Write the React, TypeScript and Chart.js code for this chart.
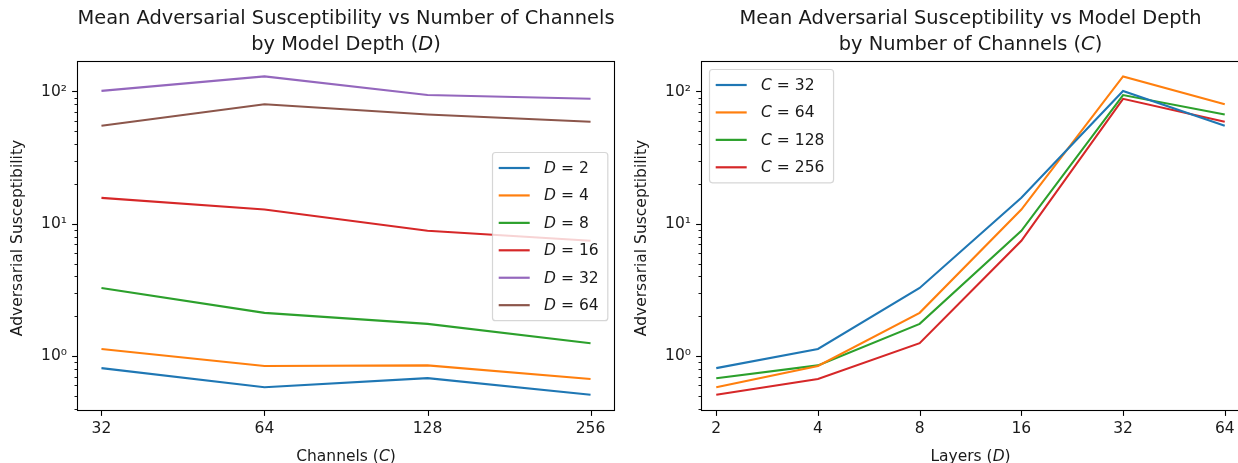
import React, { useEffect, useRef } from 'react';
import { Chart, registerables } from 'chart.js';

Chart.register(...registerables);

// ---------- data ----------
const channels = [32, 64, 128, 256];
const depths = [2, 4, 8, 16, 32, 64];

// mean adversarial susceptibility, one array per depth D (values over channels)
const depth2 = [0.81, 0.58, 0.68, 0.51];
const depth4 = [1.13, 0.84, 0.85, 0.67];
const depth8 = [3.27, 2.12, 1.75, 1.25];
const depth16 = [15.7, 12.8, 8.85, 7.43];
const depth32 = [101, 130, 94, 88];
const depth64 = [55, 80, 67, 59];
const byDepth = [depth2, depth4, depth8, depth16, depth32, depth64];

const palette = ['#1f77b4', '#ff7f0e', '#2ca02c', '#d62728', '#9467bd', '#8c564b'];

const yTickText: Record<string, string> = { '1': '10\u2070', '10': '10\u00b9', '100': '10\u00b2' };
const yMin = 0.384;
const yMax = 170;

// ---------- styling ----------
const FONT = "'DejaVu Sans', sans-serif";
const TXT = 15.5;
const TITLE = 19.4;
const INK = '#1a1a1a';

type Seg = { t: string; it?: boolean };

function fontFor(s: Seg, size: number) {
  return `${s.it ? 'italic ' : ''}${size}px ${FONT}`;
}
function segsWidth(ctx: CanvasRenderingContext2D, segs: Seg[], size: number) {
  let w = 0;
  for (const s of segs) {
    ctx.font = fontFor(s, size);
    w += ctx.measureText(s.t).width;
  }
  return w;
}
function drawSegs(ctx: CanvasRenderingContext2D, segs: Seg[], size: number, x: number, y: number, center: boolean) {
  let cx = center ? x - segsWidth(ctx, segs, size) / 2 : x;
  ctx.textAlign = 'left';
  for (const s of segs) {
    ctx.font = fontFor(s, size);
    ctx.fillText(s.t, cx, y);
    cx += ctx.measureText(s.t).width;
  }
}

type Spec = {
  title: Seg[][];
  xLabel: Seg[];
  yLabel: Seg[];
  legend: Seg[][];
  legendLoc: 'centerRight' | 'upperLeft';
};

function decorPlugin(spec: Spec) {
  return {
    id: 'decor',
    afterDatasetsDraw(chart: any) {
      const ctx: CanvasRenderingContext2D = chart.ctx;
      const a = chart.chartArea;
      ctx.save();
      ctx.strokeStyle = '#000';
      ctx.lineWidth = 1.1;
      // spines
      const L = Math.round(a.left) + 0.5;
      const R = Math.round(a.right) - 0.5;
      const T = Math.round(a.top) + 0.5;
      const B = Math.round(a.bottom) - 0.5;
      ctx.strokeRect(L, T, R - L, B - T);
      // x ticks
      const xs = chart.scales.x;
      for (const t of xs.ticks) {
        const px = Math.round(xs.getPixelForValue(t.value)) + 0.5;
        ctx.beginPath();
        ctx.moveTo(px, B);
        ctx.lineTo(px, B + 5.4);
        ctx.stroke();
      }
      // y ticks
      const ys = chart.scales.y;
      for (const t of ys.ticks) {
        const py = Math.round(ys.getPixelForValue(t.value)) + 0.5;
        const len = t.major ? 5.4 : 3.0;
        ctx.lineWidth = t.major ? 1.1 : 0.9;
        ctx.beginPath();
        ctx.moveTo(L, py);
        ctx.lineTo(L - len, py);
        ctx.stroke();
      }
      ctx.restore();
    },
    afterDraw(chart: any) {
      const ctx: CanvasRenderingContext2D = chart.ctx;
      const a = chart.chartArea;
      const cx = (a.left + a.right) / 2;
      const cy = (a.top + a.bottom) / 2;
      ctx.save();
      ctx.fillStyle = INK;
      ctx.textBaseline = 'alphabetic';
      // title
      drawSegs(ctx, spec.title[0], TITLE, cx, 23.5, true);
      drawSegs(ctx, spec.title[1], TITLE, cx, 49.5, true);
      // x label
      drawSegs(ctx, spec.xLabel, TXT, cx, 460.5, true);
      // y label
      ctx.save();
      ctx.translate(a.left - 55, cy + 2);
      ctx.rotate(-Math.PI / 2);
      drawSegs(ctx, spec.yLabel, TXT, 0, 0, true);
      ctx.restore();

      // legend
      const em = TXT;
      const pad = 0.4 * em;
      const handle = 2 * em;
      const textPad = 0.8 * em;
      const rowPitch = 1.77 * em;
      const firstOff = 1.0 * em;
      let tw = 0;
      for (const segs of spec.legend) tw = Math.max(tw, segsWidth(ctx, segs, TXT));
      const w = pad + handle + textPad + tw + pad + 5;
      const n = spec.legend.length;
      const h = firstOff * 2 + (n - 1) * rowPitch;
      const gap = 0.5 * em;
      let bx: number, by: number;
      if (spec.legendLoc === 'centerRight') {
        bx = a.right - gap - w;
        by = cy - h / 2;
      } else {
        bx = a.left + gap;
        by = a.top + gap;
      }
      bx = Math.round(bx) + 0.5;
      by = Math.round(by) + 0.5;
      ctx.beginPath();
      (ctx as any).roundRect(bx, by, w, h, 3);
      ctx.fillStyle = 'rgba(255,255,255,0.8)';
      ctx.fill();
      ctx.strokeStyle = 'rgba(204,204,204,0.8)';
      ctx.lineWidth = 1.2;
      ctx.stroke();
      const dsets = chart.data.datasets;
      for (let i = 0; i < n; i++) {
        const ry = by + firstOff + i * rowPitch;
        ctx.strokeStyle = dsets[i].borderColor;
        ctx.lineWidth = 2.2;
        ctx.beginPath();
        ctx.moveTo(bx + pad, ry);
        ctx.lineTo(bx + pad + handle, ry);
        ctx.stroke();
        ctx.fillStyle = INK;
        ctx.textBaseline = 'middle';
        drawSegs(ctx, spec.legend[i], TXT, bx + pad + handle + textPad + 2, ry + 1, false);
      }
      ctx.restore();
    },
  };
}

function buildConfig(
  xValues: number[],
  series: number[][],
  spec: Spec,
  yAxisWidth: number,
  rightPad: number
): any {
  const lo = xValues[0] / Math.pow(2, 0.15);
  const hi = xValues[xValues.length - 1] * Math.pow(2, 0.15);
  return {
    type: 'line',
    data: {
      datasets: series.map((vals, i) => ({
        label: spec.legend[i].map((s) => s.t).join(''),
        data: vals.map((y, j) => ({ x: xValues[j], y })),
        borderColor: palette[i],
        backgroundColor: palette[i],
        borderWidth: 2.1,
        pointRadius: 0,
        tension: 0,
        fill: false,
      })),
    },
    options: {
      animation: false,
      responsive: false,
      devicePixelRatio: 1,
      layout: { padding: { top: 61, right: rightPad, bottom: 0, left: 0 } },
      plugins: {
        legend: { display: false },
        title: { display: false },
        tooltip: { enabled: false },
      },
      scales: {
        x: {
          type: 'logarithmic',
          bounds: 'data',
          min: lo,
          max: hi,
          grid: { display: false, drawTicks: false },
          border: { display: false },
          afterBuildTicks: (s: any) => {
            s.ticks = xValues.map((v) => ({ value: v }));
          },
          afterFit: (s: any) => {
            s.height = 52;
          },
          ticks: {
            autoSkip: false,
            maxRotation: 0,
            padding: 9,
            color: INK,
            font: { family: FONT, size: TXT },
            callback: (v: any) => String(v),
          },
        },
        y: {
          type: 'logarithmic',
          bounds: 'data',
          min: yMin,
          max: yMax,
          grid: { display: false, drawTicks: false },
          border: { display: false },
          afterBuildTicks: (s: any) => {
            const t: any[] = [];
            for (let e = -1; e <= 2; e++) {
              for (let k = 1; k <= 9; k++) {
                const v = k * Math.pow(10, e);
                if (v >= s.min && v <= s.max) t.push({ value: v, major: k === 1 });
              }
            }
            s.ticks = t;
          },
          afterFit: (s: any) => {
            s.width = yAxisWidth;
          },
          ticks: {
            autoSkip: false,
            padding: 10,
            color: INK,
            font: { family: FONT, size: TXT },
            callback: (v: any) => yTickText[String(v)] ?? '',
          },
        },
      },
    },
    plugins: [decorPlugin(spec)],
  };
}

// left: x = channels, one line per depth
const leftSeries = byDepth;
// right: x = depths, one line per channel count
const rightSeries = channels.map((_, j) => byDepth.map((row) => row[j]));

const leftSpec: Spec = {
  title: [
    [{ t: 'Mean Adversarial Susceptibility vs Number of Channels' }],
    [{ t: 'by Model Depth (' }, { t: 'D', it: true }, { t: ')' }],
  ],
  xLabel: [{ t: 'Channels (' }, { t: 'C', it: true }, { t: ')' }],
  yLabel: [{ t: 'Adversarial Susceptibility' }],
  legend: depths.map((d) => [{ t: 'D', it: true }, { t: ` = ${d}` }]),
  legendLoc: 'centerRight',
};

const rightSpec: Spec = {
  title: [
    [{ t: 'Mean Adversarial Susceptibility vs Model Depth' }],
    [{ t: 'by Number of Channels (' }, { t: 'C', it: true }, { t: ')' }],
  ],
  xLabel: [{ t: 'Layers (' }, { t: 'D', it: true }, { t: ')' }],
  yLabel: [{ t: 'Adversarial Susceptibility' }],
  legend: channels.map((c) => [{ t: 'C', it: true }, { t: ` = ${c}` }]),
  legendLoc: 'upperLeft',
};

function Panel({ config, left, width }: { config: any; left: number; width: number }) {
  const ref = useRef<HTMLCanvasElement>(null);
  useEffect(() => {
    const chart = new Chart(ref.current as HTMLCanvasElement, config);
    return () => chart.destroy();
  }, [config]);
  return (
    <canvas
      ref={ref}
      width={width}
      height={463}
      style={{ position: 'absolute', left, top: 0, width, height: 463, display: 'block' }}
    />
  );
}

const leftConfig = buildConfig(channels, leftSeries, leftSpec, 77, 5);
const rightConfig = buildConfig(depths, rightSeries, rightSpec, 81, 5);

export default function App() {
  return (
    <div
      style={{
        position: 'fixed',
        left: 0,
        top: 0,
        width: 1238,
        height: 463,
        overflow: 'hidden',
        background: '#fff',
      }}
    >
      <Panel config={leftConfig} left={0} width={620} />
      <Panel config={rightConfig} left={620} width={625} />
    </div>
  );
}
